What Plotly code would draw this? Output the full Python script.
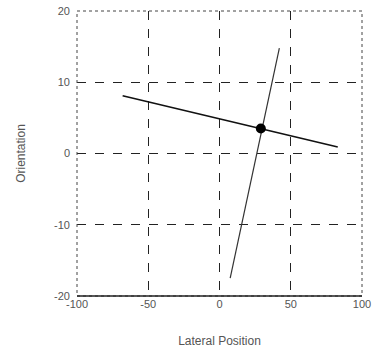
import plotly.graph_objects as go

# Data
line1_x = [-68, 83]
line1_y = [8.1, 0.9]
line2_x = [7.5, 42]
line2_y = [-17.5, 14.8]
point_x = [29]
point_y = [3.5]

x_ticks = [-100, -50, 0, 50, 100]
y_ticks = [-20, -10, 0, 10, 20]

fig = go.Figure()
fig.add_trace(go.Scatter(x=line1_x, y=line1_y, mode="lines",
                         line=dict(color="#111111", width=1.6), showlegend=False))
fig.add_trace(go.Scatter(x=line2_x, y=line2_y, mode="lines",
                         line=dict(color="#333333", width=1.2), showlegend=False))
fig.add_trace(go.Scatter(x=point_x, y=point_y, mode="markers",
                         marker=dict(color="#000000", size=10), showlegend=False))

font = dict(family="Liberation Sans, Arial, sans-serif", size=11, color="#555555")
tfont = dict(family="Liberation Sans, Arial, sans-serif", size=12, color="#555555")

fig.update_xaxes(range=[-100, 100], tickvals=x_ticks, ticktext=[str(v) for v in x_ticks],
                 showgrid=True, gridcolor="#222222", griddash="dash", gridwidth=1,
                 zeroline=False, showline=False, ticks="", tickfont=font, automargin=False,
                 ticklabeloverflow="allow",
                 title=dict(text="Lateral Position", font=tfont, standoff=27))
fig.update_yaxes(range=[-20, 20], tickvals=y_ticks, ticktext=[str(v) for v in y_ticks],
                 showgrid=True, gridcolor="#222222", griddash="dash", gridwidth=1,
                 zeroline=False, showline=False, ticks="", tickfont=font, automargin=False,
                 ticklabelstandoff=6, ticklabeloverflow="allow",
                 title=dict(text="Orientation", font=tfont, standoff=25))

fig.add_shape(type="rect", xref="paper", yref="paper", x0=0, y0=0, x1=1, y1=1,
              line=dict(color="#444444", width=1, dash="dot"))
fig.add_shape(type="line", xref="paper", yref="paper", x0=0, y0=0, x1=1, y1=0,
              line=dict(color="#222222", width=1.5))

fig.update_layout(width=374, height=351, margin=dict(l=77, r=12, t=11, b=55),
                  plot_bgcolor="white", paper_bgcolor="white", font=font)

fig.write_html("out.html", config={"displayModeBar": False},
               post_script="document.body.style.margin='0';document.body.style.overflow='hidden';")
